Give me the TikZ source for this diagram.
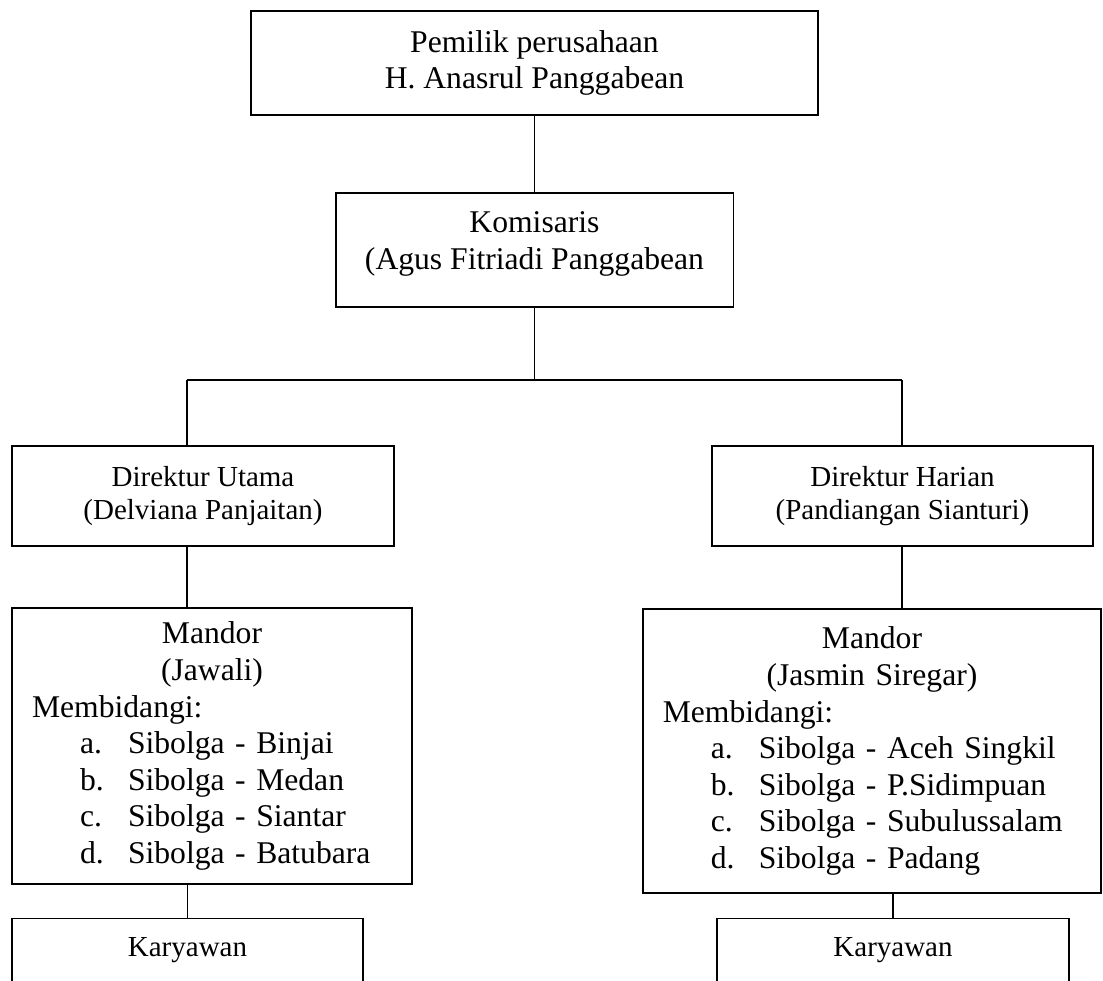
\documentclass[tikz,border=0pt]{standalone}
\usepackage{fontspec}
\setmainfont{Liberation Serif}
\usetikzlibrary{positioning,calc}

\newcommand{\itm}[2]{\hspace*{0.96cm}\makebox[0.96cm][l]{#1}#2}

\begin{document}
\begin{tikzpicture}[x=0.02cm,y=-0.02cm,
  orgbox/.style={rectangle,draw=black,line width=1.1pt,align=center,
                 inner sep=0pt,font=\fontsize{18}{20.8}\selectfont},
  smallbox/.style={orgbox,font=\fontsize{16.5}{18.8}\selectfont},
  listbox/.style={rectangle,draw=black,line width=1.1pt,align=left,
                  inner xsep=0.4cm,inner ysep=0pt,font=\fontsize{18}{20.8}\selectfont},
  link/.style={black,line width=1.1pt}
]
  \useasboundingbox (0,0) rectangle (1103,981);
  \clip (0,0) rectangle (1103,981);

  \node[orgbox,minimum width=11.34cm,minimum height=2.08cm] (owner) at (534.5,63)
       {Pemilik perusahaan\\H. Anasrul Panggabean};
  \node[orgbox,minimum width=7.96cm,minimum height=2.28cm,below=1.52cm of owner] (komisaris)
       {Komisaris\\(Agus Fitriadi Panggabean\rule[-0.38cm]{0pt}{0pt}};

  \node[smallbox,minimum width=7.64cm,minimum height=2cm] (dirU) at (203,496)
       {Direktur Utama\\(Delviana Panjaitan)};
  \node[smallbox,minimum width=7.62cm,minimum height=2cm] (dirH) at (902.5,496)
       {Direktur Harian\\(Pandiangan Sianturi)};

  \node[listbox,text width=7.2cm,minimum height=5.52cm] (mandorL) at (212,746)
       {{\centering Mandor\\(Jawali)\par}
        Membidangi:\\
        \itm{a.}{Sibolga - Binjai}\\
        \itm{b.}{Sibolga - Medan}\\
        \itm{c.}{Sibolga - Siantar}\\
        \itm{d.}{Sibolga - Batubara}};
  \node[listbox,text width=8.37cm,minimum height=5.68cm] (mandorR) at (872,751)
       {{\centering Mandor\\(Jasmin Siregar)\par}
        Membidangi:\\
        \itm{a.}{Sibolga - Aceh Singkil}\\
        \itm{b.}{Sibolga - P.Sidimpuan}\\
        \itm{c.}{Sibolga - Subulussalam}\\
        \itm{d.}{Sibolga - Padang}};

  \node[smallbox,minimum width=7.02cm,minimum height=1.28cm] (karyL) at (187.5,950.5) {Karyawan};
  \node[smallbox,minimum width=7.04cm,minimum height=1.28cm] (karyR) at (893,950.5) {Karyawan};

  \coordinate (busL) at (187,380);
  \coordinate (busR) at (902,380);

  \draw[link] (owner.south) -- (komisaris.north);
  \draw[link] (komisaris.south) -- (komisaris.south |- busL);
  \draw[link] (busL) -- (busR);
  \draw[link] (busL) -- (busL |- dirU.north);
  \draw[link] (busR) -- (busR |- dirH.north);
  \draw[link] (dirU.south -| busL) -- (busL |- mandorL.north);
  \draw[link] (dirH.south -| busR) -- (busR |- mandorR.north);
  \draw[link] (mandorL.south -| karyL.north) -- (karyL.north);
  \draw[link] (mandorR.south -| karyR.north) -- (karyR.north);
\end{tikzpicture}
\end{document}
